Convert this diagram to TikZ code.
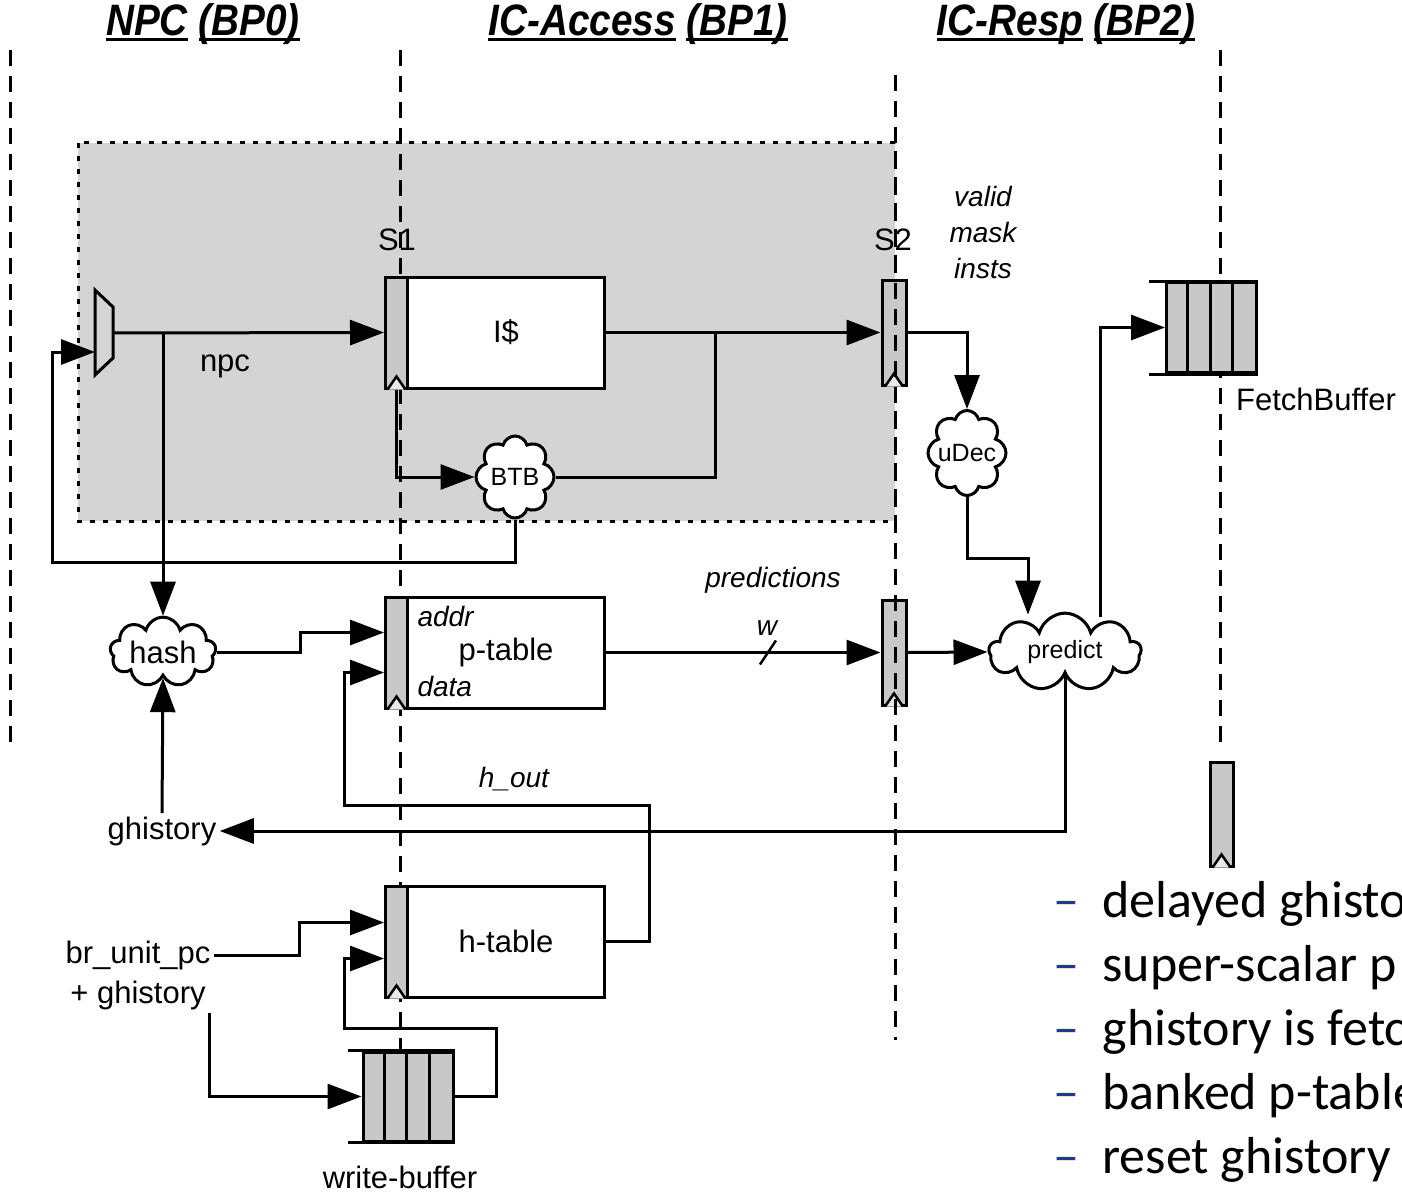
\documentclass[tikz,border=0pt]{standalone}
\usepackage{fontspec}
\setmainfont{Liberation Sans}
\newfontfamily\bulletfont{Carlito}
\newfontfamily\stagefont[FakeStretch=0.88]{Liberation Sans}
\newcommand{\ulword}[1]{\setbox0\hbox{#1}\rlap{\rule[-6pt]{\wd0}{3pt}}\box0\relax}
\usetikzlibrary{positioning,calc,shapes.symbols,arrows.meta}
\definecolor{boxgray}{RGB}{212,212,212}
\definecolor{reggray}{RGB}{200,200,200}
\definecolor{dashblue}{RGB}{30,55,160}

\begin{document}
\begin{tikzpicture}[x=1pt, y=-1pt, line width=3pt,
	    stage/.style={font=\stagefont\fontsize{44}{50}\selectfont\bfseries\itshape},
	    lbl/.style={font=\fontsize{31}{36}\selectfont, inner sep=2pt},
	    ilbl/.style={font=\fontsize{28}{36}\selectfont\itshape, inner sep=2pt},
	    reg/.style={rectangle, draw, fill=reggray, minimum width=22pt, minimum height=111pt, inner sep=0pt},
	    block/.style={rectangle, draw, fill=white, minimum width=197pt, minimum height=111pt, inner sep=0pt, font=\fontsize{31}{36}\selectfont},
	    queue/.style={rectangle, draw, fill=reggray, minimum width=90pt, minimum height=90pt, inner sep=0pt},
	    blob/.style={cloud, draw, fill=white, cloud puffs=8, inner sep=0pt, font=\fontsize{25}{30}\selectfont},
	    line/.style={draw, -{Triangle[length=34pt, width=25pt]}},
	    wire/.style={draw},
	    pipe/.style={draw, dash pattern=on 16pt off 10pt},
	    note/.style={font=\bulletfont\fontsize{52}{62}\selectfont, anchor=base west, inner sep=0pt}]
	    
	    \useasboundingbox (0,0) rectangle (1402,1193);
	    \clip (0,0) rectangle (1402,1193);
	    
	    % shaded BP0/BP1 area
	    \draw [fill=boxgray, dash pattern=on 5pt off 8pt] (78,143) rectangle (895,521);
	    
	    % stage titles and boundaries
	    \node [stage] (bp0) at (203,24) {\ulword{NPC} \ulword{(BP0)}};
	    \node [stage] (bp1) at (638,24) {\ulword{IC-Access} \ulword{(BP1)}};
	    \node [stage] (bp2) at (1066,24) {\ulword{IC-Resp} \ulword{(BP2)}};
	    \path [pipe] (10,50) -- (10,745);
	    \path [pipe] (400,50) -- (400,1050);
	    \path [pipe] (1220,50) -- (1220,750);
	    
	    % next-pc mux
	    \draw [line join=miter] (95,290) -- (113,307) -- (113,358) -- (95,375) -- cycle;
	    \coordinate (muxin) at (95,352);
	    \coordinate (muxout) at (113,333);
	    
	    \node [lbl] (s1lbl) at (397,240) {S1};
	    \node [lbl] (s2lbl) at (893,240) {S2};
	    \node [reg] (s1) at (396.5,332.5) {};
	    \node [block, anchor=west] (icache) at ([xshift=-3pt]s1.east) {I\$};
	    \node [blob, aspect=0.95, inner sep=-4pt, minimum width=78pt, minimum height=82pt] (btb) at (515,477) {BTB};
	    \node [reg, minimum width=24pt, minimum height=105pt] (s2) at (894,332.5) {};
	    \node [ilbl, align=center] (vmi) at (983,232) {valid\\mask\\insts};
	    \node [blob, aspect=0.92, inner sep=-7pt, minimum width=78pt, minimum height=85pt] (udec) at (967,453) {uDec};
	    
	    \node [queue] (fb) at (1211.5,327.5) {};
	    \foreach \i in {1,2,3}
	        \draw ([xshift=\i*22.5pt]fb.north west) -- ([xshift=\i*22.5pt]fb.south west);
	    \draw (fb.north east) -- ++(-109,0);
	    \draw (fb.south east) -- ++(-109,0);
	    \node [lbl] (fblbl) at (1316,399) {FetchBuffer};
	    
	    % prediction path
	    \node [reg] (preg) at (396.5,652.5) {};
	    \node [block, anchor=west] (ptab) at ([xshift=-3pt]preg.east) {p-table};
	    \node [ilbl, anchor=west] at (414,616) {addr};
	    \node [ilbl, anchor=west] at (414,686) {data};
	    \node [blob, cloud puffs=9, aspect=2, minimum width=106pt, minimum height=55pt, font=\fontsize{31}{36}\selectfont] (hash) at (163,652) {hash};
	    \node [reg, minimum width=24pt, minimum height=105pt] (s2b) at (894,652.5) {};
	    \node [blob, cloud puffs=9, aspect=2, minimum width=152pt, minimum height=77pt] (predict) at (1065,652) {predict};
	    \node [lbl] (ghist) at (162,831) {ghistory};
	    
	    % history path
	    \node [reg] (hreg) at (396.5,941.5) {};
	    \node [block, anchor=west] (htab) at ([xshift=-3pt]hreg.east) {h-table};
	    \node [lbl] (brpc) at (138,955) {br\_unit\_pc};
	    \node [lbl] (plusgh) at (138,995) {+ ghistory};
	    \node [queue, minimum height=89pt] (wb) at (408,1096.5) {};
	    \foreach \i in {1,2,3}
	        \draw ([xshift=\i*22.5pt]wb.north west) -- ([xshift=\i*22.5pt]wb.south west);
	    \draw (wb.north east) -- ++(-107,0);
	    \draw (wb.south east) -- ++(-107,0);
	    \node [lbl] (wblbl) at (400,1177) {write-buffer};
	    
	    \node [reg, minimum width=23pt, minimum height=104pt] (s3) at (1221.5,814) {};
	    
	    % clock marks
	    \foreach \r in {s1,preg,hreg,s2,s2b,s3}
	        \draw [fill=white!60!reggray, line width=2.5pt] ([xshift=-9pt]\r.south) -- ([yshift=13pt]\r.south) -- ([xshift=9pt]\r.south);
	    \path [pipe] (895,75) -- (895,1040);
	    
	    % connections
	    \path [line] (muxout) -- (s1.west);
	    \path [line] (muxout -| hash.north) -- (hash.north);
	    \node [lbl] (npc) at (225,366) {npc};
	    \path [line] (icache.east) -- (s2.west);
	    \coordinate (tap) at (715,332.5);
	    \path [wire] (tap) |- (btb.east);
	    \path [line] (s1.south) |- (btb.west);
	    \path [line] (btb.south) |- (52,562) |- (muxin);
	    \path [line] (s2.east) -| (udec.north);
	    \path [line] (udec.south) -- ++(0,61) -| ([xshift=-37pt, yshift=-3pt]predict.north);
	    \path [line] ([xshift=35pt, yshift=-5pt]predict.north) |- (fb.west);
	    \path [line] (predict.south) |- (ghist.east);
	    \path [line] (ghist.north) -- (hash.south);
	    \path [line] (hash.east) -- ++(84,0) |- ([yshift=20pt]preg.west);
	    \path [line] (htab.east) -- ++(43,0) |- (344,805) |- ([yshift=-20pt]preg.west);
	    \node [ilbl] (hout) at (514,779) {h\_out};
	    \path [line] (ptab.east) -- coordinate[pos=0.59] (wtick) (s2b.west);
	    \draw [line width=2.5pt] ($(wtick)+(-8,12)$) -- ($(wtick)+(8,-12)$);
	    \node [ilbl] (wlbl) at (767,628) {w};
	    \node [ilbl] (predlbl) at (773,580) {predictions};
	    \path [line] (s2b.east) -- (predict.west);
	    \path [line] (brpc.east) -- ++(86,0) |- ([yshift=19pt]hreg.west);
	    \path [line] (plusgh.south east) |- (wb.west);
	    \path [line] (wb.east) -- ++(42,0) |- (344,1028) |- ([yshift=-17pt]hreg.west);
	    
	    % notes
	    \foreach \txt [count=\i] in {delayed ghisto, super-scalar p, ghistory is fetc, banked p-table, reset ghistory} {
	        \node [note, text=dashblue] (dash\i) at (1052,{917+64*(\i-1)}) {–};
	        \node [note] (note\i) at (1101,{917+64*(\i-1)}) {\txt};
	    }
	\end{tikzpicture}
\end{document}
